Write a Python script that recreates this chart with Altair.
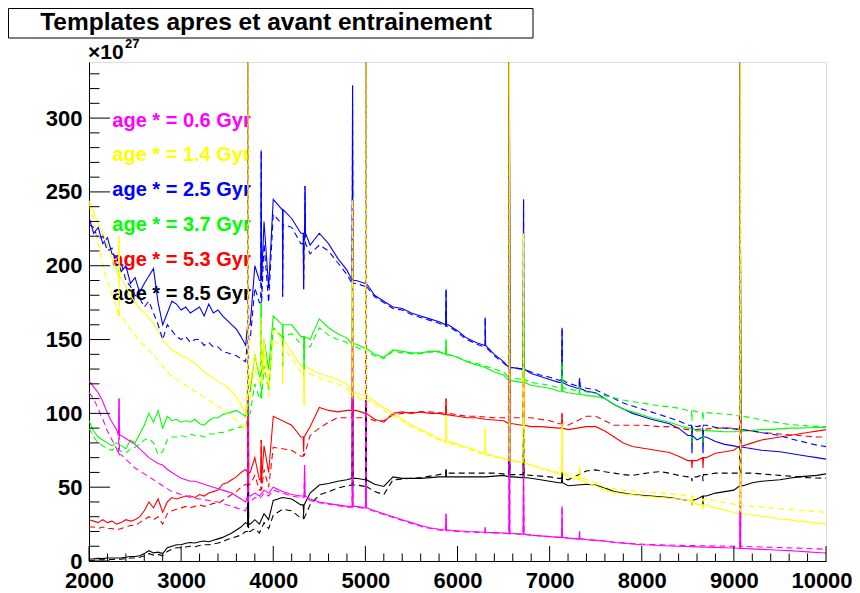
import altair as alt
import pandas as pd

# wavelength sampling grid (Angstrom)
LAM = [2000, 2050, 2100, 2150, 2200, 2250, 2300, 2350, 2400, 2450, 2500, 2550, 2600, 2650, 2700,
       2750, 2800, 2850, 2900, 2950, 3000, 3050, 3100, 3150, 3200, 3250, 3300, 3350, 3400, 3450,
       3500, 3550, 3600, 3650, 3700, 3750, 3800, 3850, 3900, 3950, 4000,
       4100, 4200, 4300, 4400, 4500, 4600, 4700, 4800, 4900, 5000, 5100, 5200, 5300, 5400, 5500,
       5600, 5700, 5800, 5900, 6000, 6100, 6200, 6300, 6400, 6500, 6600, 6700, 6800, 6900, 7000,
       7100, 7200, 7300, 7400, 7500, 7600, 7700, 7800, 7900, 8000, 8100, 8200, 8300, 8400, 8500,
       8600, 8700, 8800, 8900, 9000, 9100, 9200, 9300, 9400, 9500, 9600, 9700, 9800, 9900, 10000]

AGES = ["0.6", "1.4", "2.5", "3.7", "5.3", "8.5"]
LABELS = ["age * = 0.6 Gyr", "age * = 1.4 Gyr", "age * = 2.5 Gyr",
          "age * = 3.7 Gyr", "age * = 5.3 Gyr", "age * = 8.5 Gyr"]
COLORS = ["#ff00ff", "#ffff00", "#0000ff", "#00ff00", "#ff0000", "#000000"]

# solid curves (x 1e27)
mag_s = [122, 118, 114, 108, 100, 94, 89, 85, 83, 81, 79, 76, 73, 70, 68, 66, 65, 62, 60, 58,
         56, 55, 54, 54, 53, 52, 51, 50, 49, 48, 47, 46, 44, 42, 40, 44, 46, 44, 48, 46, 50,
         47, 45, 44, 42, 40, 39, 38, 37, 37, 36, 34, 32, 30, 28, 26, 24, 22.5, 21.5, 21, 20.5,
         20, 19.8, 19.5, 19.2, 19, 18.6, 18.2, 17.5, 17, 16.5, 16, 15.5, 15, 14.5, 14,
         13.5, 12.5, 12, 11.5, 11, 10.8, 10.5, 10.2, 10, 9.8, 9.6, 9.4, 9.2, 9, 8.8,
         8.5, 8.2, 7.9, 7.6, 7.3, 7, 6.6, 6.2, 5.8, 5.4]
yel_s = [244, 236, 228, 222, 214, 205, 197, 192, 186, 180, 175, 171, 168, 165, 161, 156, 150, 146, 143, 141,
         139, 138, 136, 134, 131, 128, 126, 124, 122, 120, 118, 115, 111, 106, 100, 120, 140, 128, 150, 118, 158,
         150, 142, 132, 130, 127, 125, 123, 120, 114, 112, 108, 104, 100, 96, 92, 89, 86, 83, 81, 79,
         77, 75, 73, 71, 69.5, 68, 66.5, 65, 63, 61, 59, 57, 55, 53, 51, 48, 46.5, 45.5, 44.8, 44,
         43.5, 43, 42.5, 42, 41, 38, 38, 36, 34.5, 33, 32, 31, 30.5, 29.5, 28.5, 28, 27, 26.5, 25.5, 25]
blu_s = [233, 222, 226, 215, 219, 208, 206, 196, 200, 188, 192, 182, 188, 193, 198, 175, 160, 168, 176, 174,
         170, 172, 168, 170, 172, 166, 174, 168, 170, 166, 163, 160, 157, 152, 146, 160, 200, 190, 230, 185, 245,
         238, 232, 222, 214, 222, 215, 205, 197, 190, 188, 180, 176, 172, 171, 168, 166, 164, 162, 160, 156,
         151, 148, 146, 140, 135, 131, 130, 127, 125, 123, 121, 119, 117, 115, 114, 110, 106, 103, 100, 98,
         96, 94.5, 93, 90, 85, 82, 84, 81, 79, 78, 77, 76, 75, 74.5, 74, 73, 72, 71, 70, 69]
grn_s = [95, 88, 84, 82, 80, 78, 80, 78, 76, 82, 80, 86, 92, 100, 94, 102, 90, 98, 95, 96,
         94, 95, 94, 96, 93, 92, 95, 97, 97, 99, 100, 101, 102, 100, 98, 115, 140, 125, 150, 130, 166,
         160, 160, 152, 150, 164, 158, 154, 151, 147, 144, 140, 138, 143, 142, 141, 141, 142, 142, 140, 138,
         135, 133, 131, 128, 126, 122, 121, 119, 118, 117, 115, 114, 113, 112, 111.5, 110, 106, 103, 101, 99,
         97, 95.5, 94, 92, 90, 88, 88.5, 88, 87.5, 87.5, 88, 88.5, 89, 89, 89.5, 90, 90, 90.3, 90.4, 90.5]
red_s = [28, 27, 26, 28, 26, 27, 25, 26, 28, 27, 28, 30, 34, 40, 36, 42, 33, 40, 43, 42,
         43, 44, 44, 43, 45, 44, 46, 47, 48, 52, 53, 55, 57, 60, 62, 60, 70, 55, 78, 60, 98,
         95, 92, 84, 91, 104, 102, 101, 102, 102, 100, 96, 94, 100, 101, 100, 101, 100, 100, 99, 98,
         97, 97, 96, 95.5, 95, 93, 92, 91, 91, 90.5, 90, 89, 90, 91, 91, 88, 84, 80, 77.5, 76.5,
         75.5, 74.5, 73.5, 71, 68, 68, 70, 73, 74, 75, 78, 80, 82, 83, 84, 85, 86, 87, 88, 89]
blk_s = [1.4, 1.5, 1.8, 1.6, 2, 2, 2, 2.2, 2.5, 3, 3, 3.5, 5, 7, 5.5, 6, 5, 9, 10, 11,
         11, 12, 12.5, 12.2, 13, 13.5, 13, 14, 15, 16, 17.5, 19, 21, 23, 26, 25, 28, 25, 32, 28, 41,
         43, 42, 38, 46, 51.5, 52.5, 54, 55, 56, 55, 52, 50.5, 57, 56, 56, 56, 56.5, 57, 57, 57,
         57, 57, 57, 57.5, 58, 57, 56.5, 56, 55, 54, 53, 51, 51.5, 52, 51.5, 49.5, 47, 46, 45, 44.5,
         44, 43.5, 43, 42, 41, 42, 44, 46, 47, 48, 51, 53, 54, 54.5, 55, 56, 57, 57.5, 58, 59]

# dashed curves (x 1e27)
mag_d = [114, 110, 103, 96, 88, 82, 76, 72, 69, 66, 63, 61, 59, 57, 55, 53, 51, 49, 47, 46,
         45, 44, 43, 42.5, 42, 41.5, 41, 40.5, 40, 39, 38, 37, 36, 35, 34, 40, 43, 42, 46, 44, 48,
         46, 44, 43, 41, 39.5, 38.5, 37.5, 36.5, 36.5, 35.5, 33.5, 31.5, 29.5, 27.5, 25.5, 23.5, 22, 21, 20.5, 20,
         19.6, 19.4, 19.2, 19, 18.8, 18.5, 18.1, 17.5, 17, 16.5, 16, 15.5, 15, 14.5, 14, 13.5, 12.8, 12.3, 11.8, 11.4,
         11.2, 11, 10.8, 10.6, 10.5, 10.4, 10.3, 10.2, 10.1, 10, 9.9, 9.7, 9.5, 9.3, 9.1, 8.9, 8.7, 8.5, 8.2, 8]
yel_d = [242, 230, 215, 200, 190, 180, 172, 166, 161, 157, 153, 149, 146, 143, 140, 136, 132, 128, 125, 123,
         121, 119, 117, 115, 113, 111, 109, 107, 105, 103, 100, 98, 95, 92, 88, 110, 130, 120, 140, 112, 150,
         145, 138, 128, 127, 124, 122, 120, 117, 111, 109, 106, 102, 98, 95, 91, 88, 85, 82, 80, 78,
         76, 74, 72, 70.5, 69, 68, 66.5, 65, 63, 61.5, 60, 58.5, 57, 55, 53, 50, 49, 48, 47.5, 47,
         46.5, 46, 45.5, 45, 44, 42, 42, 41, 39.5, 38.5, 37.5, 37, 36.5, 36, 35.5, 35, 34.5, 34, 33.5, 33]
blu_d = [228, 226, 218, 220, 210, 212, 200, 202, 190, 186, 180, 178, 172, 176, 168, 160, 150, 160, 156, 152,
         150, 152, 148, 150, 150, 146, 148, 145, 145, 142, 141, 140, 139, 137, 135, 150, 185, 175, 215, 175, 235,
         228, 226, 215, 208, 214, 210, 202, 194, 188, 186, 179, 175, 171, 170, 167, 165, 163, 161, 159, 155,
         150, 147, 145, 139, 134, 131, 130, 128, 126, 124.5, 122.5, 120.5, 118.5, 117, 116, 113, 110, 107, 105, 103,
         101, 99, 97, 95, 92, 91, 92, 90.5, 90, 89.5, 89, 88, 87, 86, 85, 83, 81.5, 80, 78.5, 77.5]
grn_d = [90, 84, 80, 78, 76, 75, 77, 74, 73, 76, 77, 79, 82, 83, 80, 72, 74, 82, 84, 84,
         85, 84, 86, 85, 85, 84, 86, 86, 87, 87, 88, 89, 90, 91, 90, 100, 120, 110, 132, 115, 158,
         152, 154, 147, 145, 158, 153, 150, 148, 145, 142, 139, 137, 142, 141, 140.5, 140.5, 141.5, 141.5, 139.5, 138,
         135.5, 134, 132, 130, 128, 124, 123, 121, 120, 119, 117.5, 116.5, 115.5, 114.5, 113.5, 112, 110.5, 109, 108, 107,
         106, 105, 104.5, 103.5, 102, 101, 100.5, 100, 99.5, 99, 98, 97, 95.5, 94.5, 93.5, 92.5, 92, 91.5, 91.2, 91]
red_d = [23, 23, 22, 23, 22, 22, 21, 22, 23, 24, 24, 26, 28, 30, 28, 30, 25, 32, 34, 35,
         36, 37, 36, 37, 38, 37, 38, 39, 39, 41, 43, 45, 47, 50, 52, 52, 58, 48, 62, 50, 77,
         76, 75, 71, 85, 90, 94, 97, 97, 97, 97, 95, 95, 99, 100, 100.5, 101, 101, 100.5, 100, 99,
         98, 98, 97.5, 97, 97, 97, 97, 97, 96, 95, 93, 92, 95, 98, 98, 95, 92, 92, 92, 92,
         91.5, 91, 91, 90, 89, 89, 89.5, 90, 90, 90, 89, 88, 87, 86.5, 86, 85.5, 85, 84.5, 84, 84]
blk_d = [0.5, 0.6, 0.8, 0.8, 1, 1, 1.2, 1.3, 1.6, 2, 2, 2.5, 3.5, 5, 4, 4.5, 3.5, 6.5, 8, 9,
         9, 9.5, 10, 9.7, 10.5, 11, 11, 11.5, 12.2, 13, 14.5, 15.5, 16.5, 17.6, 20, 20, 22, 19, 26, 22, 31,
         35, 34, 29, 38, 44.8, 47, 49.3, 51, 51.5, 50.5, 47, 45, 55, 55.5, 56, 56.5, 57.5, 58.5, 59.5, 59.5,
         59.5, 59.5, 59.5, 59.5, 59, 58.5, 58.5, 58, 57.5, 57, 56, 55, 58, 61, 61.7, 60.5, 59.5, 58.5, 58, 59,
         60, 60.5, 59.5, 58, 57, 57, 58.5, 59.5, 59.5, 59.5, 59.5, 59.5, 59, 58.5, 58, 57.5, 57, 56.5, 56.2, 56]

SOLID = [mag_s, yel_s, blu_s, grn_s, red_s, blk_s]
DASHED = [mag_d, yel_d, blu_d, grn_d, red_d, blk_d]

# narrow emission lines / absorption dips: (wavelength, value at line centre)
FEAT = [
    [(2326, 110), (3727, 360), (4340, 65), (4861, 240), (5007, 360), (5876, 32), (6300, 23),
     (6563, 360), (6717, 66), (7135, 37), (7325, 20), (9069, 360)],
    [(2326, 220), (3727, 360), (3869, 165), (4102, 120), (4335, 105), (4861, 245), (5007, 360),
     (5876, 99), (6300, 90), (6563, 360), (6717, 222), (7135, 94), (7325, 64), (9069, 360)],
    [(3727, 360), (3869, 278), (4102, 179), (4330, 184), (4345, 254), (4861, 322), (5007, 360),
     (5876, 184), (6300, 165), (6563, 312), (6717, 245), (7135, 158), (7325, 124), (9069, 360)],
    [(3727, 360), (3869, 175), (4102, 132), (4335, 125), (4861, 225), (5007, 360), (5876, 150),
     (6563, 360), (6717, 175), (7135, 135), (7325, 118), (9069, 360)],
    [(3727, 360), (3869, 82), (4330, 74), (4861, 180), (5007, 360), (5876, 110), (6563, 360),
     (6717, 150), (7135, 100), (9069, 360)],
    [(3727, 360), (4330, 32.5), (4861, 150), (5007, 360), (5876, 62), (6563, 360), (6717, 90),
     (7135, 60), (9069, 360)],
]
CA_SOLID = [[], [(8545, 37), (8665, 35)], [(8545, 73), (8665, 73)], [(8545, 80), (8665, 80)],
            [(8545, 63), (8665, 63)], [(8545, 38), (8665, 37)]]
CA_DASHED = [[], [(8545, 40), (8665, 39)], [(8545, 84), (8665, 84)], [(8545, 95), (8665, 95)],
             [(8545, 86), (8665, 86)], [(8545, 54), (8665, 54)]]

Y_MAJOR = [0, 50, 100, 150, 200, 250, 300]
Y_MINOR = [v for v in range(10, 331, 10) if v % 50]
X_MAJOR = [2000, 3000, 4000, 5000, 6000, 7000, 8000, 9000, 10000]
X_MINOR = [v for v in range(2200, 10000, 200) if v % 1000]

# drawing order (first drawn at the bottom)
DRAW_ORDER = [5, 4, 2, 3, 0, 1]

for arr in SOLID + DASHED:
    assert len(arr) == len(LAM), len(arr)


def build(vals, feats):
    pts = list(zip(LAM, vals))
    for lf, pv in feats:
        idx = min(range(len(LAM)), key=lambda i: abs(LAM[i] - lf))
        base = vals[idx]
        pts += [(lf - 5, base), (lf, pv), (lf + 5, base)]
    pts.sort()
    return pts


W, H = 737, 499
FONT = "Liberation Sans"

xscale = alt.Scale(domain=[2000, 10000], nice=False, zero=False)
yscale = alt.Scale(domain=[0, 338], nice=False, zero=False)

xaxis = alt.Axis(values=X_MAJOR, format="d", title=None, ticks=False, grid=False,
                 labelFont=FONT, labelFontWeight="bold", labelFontSize=22, labelColor="black",
                 labelBaseline="alphabetic", labelPadding=26, domainColor="black",
                 labelOverlap=False, labelFlush=False,
                 labelOffset={"condition": {"test": "datum.value == 10000", "value": -4.5}, "value": 0})
yaxis = alt.Axis(values=Y_MAJOR, format="d", title=None, ticks=False, grid=False,
                 labelFont=FONT, labelFontWeight="bold", labelFontSize=22, labelColor="black",
                 labelPadding=7, domainColor="black", labelOverlap=False, labelFlush=False)


def X(field):
    return alt.X(field, scale=xscale, axis=xaxis)


def Y(field):
    return alt.Y(field, scale=yscale, axis=yaxis)


layers = []

# legend text
df_leg = pd.DataFrame({"label": LABELS, "col": COLORS, "ypx": [64.5, 99, 134, 169, 203.5, 238]})
layers.append(alt.Chart(df_leg).mark_text(align="left", baseline="alphabetic", font=FONT,
                                          fontWeight="bold", fontSize=20).encode(
    x=alt.value(23.3), y=alt.Y("ypx:Q", scale=None), text="label:N",
    color=alt.Color("col:N", scale=None)))

for style in ["solid", "dashed"]:
    for i in DRAW_ORDER:
        if style == "solid":
            pts = build(SOLID[i], FEAT[i] + CA_SOLID[i])
            mk = dict(strokeWidth=1.1, clip=True, color=COLORS[i])
        else:
            pts = build(DASHED[i], FEAT[i] + CA_DASHED[i])
            mk = dict(strokeWidth=1.1, clip=True, color=COLORS[i], strokeDash=[6, 4])
        df = pd.DataFrame(pts, columns=["lam", "flux"])
        layers.append(alt.Chart(df).mark_line(**mk).encode(x=X("lam:Q"), y=Y("flux:Q")))

layers.append(alt.Chart(pd.DataFrame({"v": Y_MAJOR})).mark_rule(color="black", strokeWidth=1).encode(
    y=Y("v:Q"), x=alt.value(0), x2=alt.value(21)))
layers.append(alt.Chart(pd.DataFrame({"v": Y_MINOR})).mark_rule(color="black", strokeWidth=1).encode(
    y=Y("v:Q"), x=alt.value(0), x2=alt.value(10.5)))
layers.append(alt.Chart(pd.DataFrame({"v": X_MAJOR})).mark_rule(color="black", strokeWidth=1).encode(
    x=X("v:Q"), y=alt.value(H), y2=alt.value(H - 15)))
layers.append(alt.Chart(pd.DataFrame({"v": X_MINOR})).mark_rule(color="black", strokeWidth=1).encode(
    x=X("v:Q"), y=alt.value(H), y2=alt.value(H - 7.5)))

one = pd.DataFrame({"a": [0]})
layers.append(alt.Chart(one).mark_rect(fill="white", stroke="black", strokeWidth=1).encode(
    x=alt.value(-80.5), x2=alt.value(444), y=alt.value(-53.5), y2=alt.value(-24)))
layers.append(alt.Chart(one).mark_text(text="Templates apres et avant entrainement", font=FONT,
                                       fontWeight="bold", fontSize=24.5, align="center",
                                       baseline="alphabetic", color="black").encode(
    x=alt.value(177), y=alt.value(-32.5)))
layers.append(alt.Chart(one).mark_text(text="×10", font=FONT, fontWeight="bold", fontSize=21,
                                       align="left", baseline="alphabetic", color="black").encode(
    x=alt.value(-1), y=alt.value(-3)))
layers.append(alt.Chart(one).mark_text(text="27", font=FONT, fontWeight="bold", fontSize=13,
                                       align="left", baseline="alphabetic", color="black").encode(
    x=alt.value(36), y=alt.value(-14)))

chart = alt.layer(*layers).properties(
    width=W, height=H,
    autosize=alt.AutoSizeParams(type="none"),
    padding={"left": 81, "top": 54, "right": 26, "bottom": 32},
).configure_view(stroke="black", strokeWidth=1).configure(font=FONT, background="white")

chart.save("out.html", embed_options={"renderer": "svg", "actions": False})
